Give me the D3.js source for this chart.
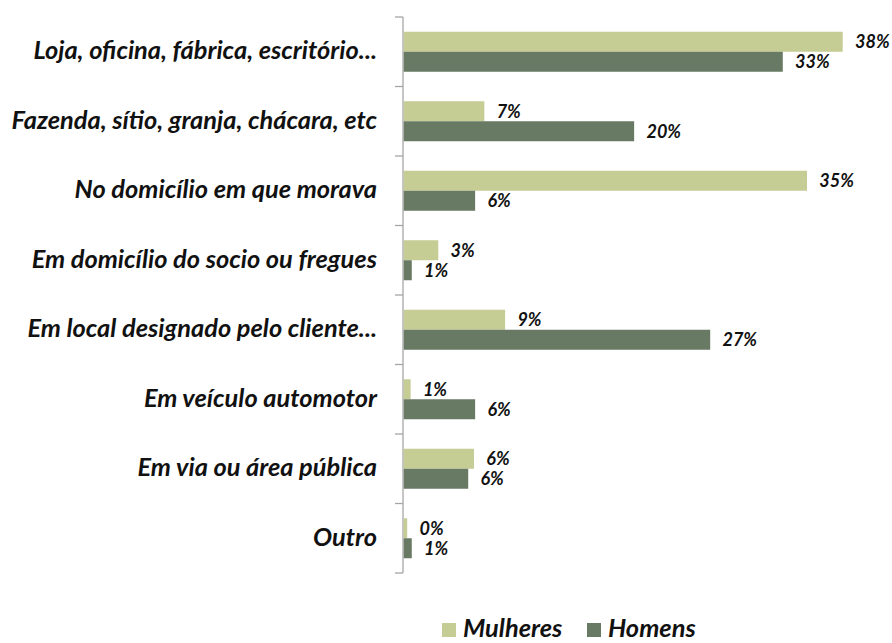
<!DOCTYPE html>
<html><head><meta charset="utf-8">
<script src="https://cdn.jsdelivr.net/npm/d3@7"></script>
<style>body{margin:0;background:#fff}svg{display:block}text{font-family:Lato,sans-serif;font-weight:bold;font-style:italic}</style>
</head><body><svg id="c" width="892" height="643"></svg>
<script>
const categories = ["Loja, oficina, fábrica, escritório...","Fazenda, sítio, granja, chácara, etc","No domicílio em que morava","Em domicílio do socio ou fregues","Em local designado pelo cliente...","Em veículo automotor","Em via ou área pública","Outro"];
const seriesNames = ["Mulheres","Homens"];
const mulheres = [38.1, 7.0, 35.0, 3.0, 8.8, 0.6, 6.1, 0.3];
const homens   = [32.9, 20.0, 6.2, 0.7, 26.6, 6.2, 5.6, 0.7];
const colors = ["#c5cc94","#687a64"];

const svg = d3.select("#c");
const plotLeft = 403, plotTop = 17, plotBottom = 573;
const x = d3.scaleLinear().domain([0, 38.1]).range([plotLeft, 842]);
const y = d3.scaleBand().domain(categories).range([plotTop, plotBottom]).paddingInner(0).paddingOuter(0);
const yInner = d3.scaleBand().domain(seriesNames).range([0, 40]);
const off = (y.bandwidth() - 40) / 2;
const fmt = v => d3.format(".0f")(v) + "%";

// axis
const ax = svg.append("g").attr("transform", `translate(${plotLeft},0)`);
const tickYs = categories.map(c => y(c)).concat([plotBottom]);
ax.selectAll("line.t").data(tickYs).join("line").attr("class","t")
  .attr("x1",-8).attr("x2",0).attr("y1",d=>d).attr("y2",d=>d).attr("stroke","#a6a6a6").attr("stroke-width",1.3);
ax.append("line").attr("x1",0).attr("x2",0).attr("y1",plotTop).attr("y2",plotBottom).attr("stroke","#a6a6a6").attr("stroke-width",1.3);

// category labels
svg.selectAll("text.cat").data(categories).join("text").attr("class","cat")
  .attr("x", 377).attr("y", d => y(d) + y.bandwidth()/2).attr("dy","0.3em")
  .attr("text-anchor","end").attr("font-size",25.4).attr("fill","#111").text(d=>d);

const series = [mulheres, homens];
series.forEach((vals, si) => {
  const g = svg.append("g");
  g.selectAll("rect").data(vals).join("rect")
    .attr("x", plotLeft + 0.7).attr("y", (d,i) => y(categories[i]) + off + yInner(seriesNames[si]))
    .attr("width", d => x(d) - plotLeft).attr("height", yInner.bandwidth())
    .attr("fill", colors[si]);
  g.selectAll("text").data(vals).join("text")
    .attr("x", d => x(d) + 13).attr("y", (d,i) => y(categories[i]) + off + yInner(seriesNames[si]) + yInner.bandwidth()/2)
    .attr("dy","0.36em").attr("font-size",18).attr("fill","#111").text(fmt);
});

// legend
const lg = svg.append("g");
const lx = [442, 587];
seriesNames.forEach((s,i) => {
  lg.append("rect").attr("x", lx[i]).attr("y", 623).attr("width",14).attr("height",14).attr("fill",colors[i]);
  lg.append("text").attr("x", lx[i]+21).attr("y", 637).attr("font-size",25.4).attr("fill","#111").text(s);
});
</script></body></html>
